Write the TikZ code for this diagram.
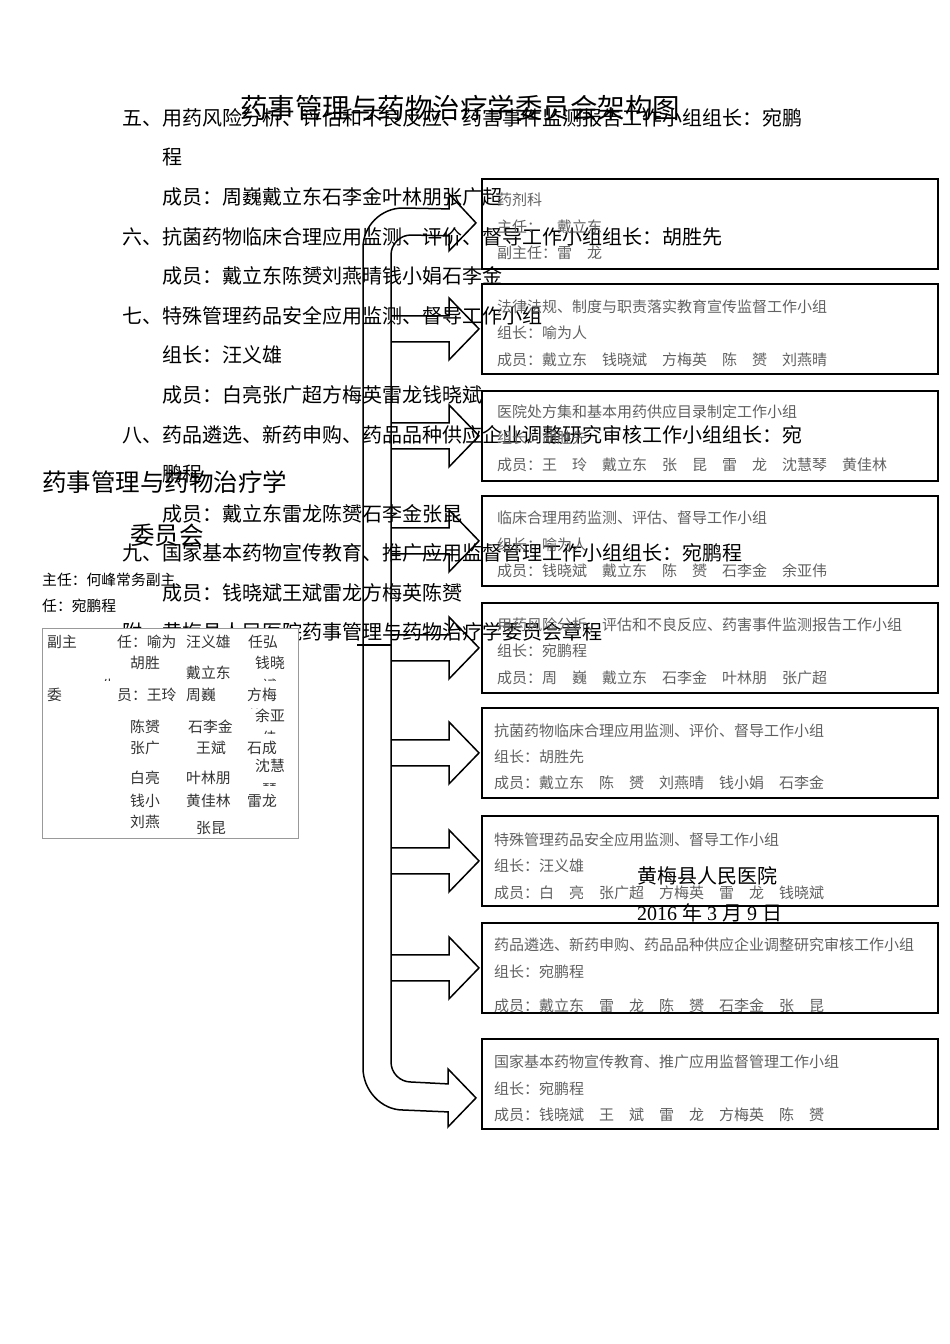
\documentclass[tikz,border=0pt]{standalone}
\usepackage{fontspec}
\setmainfont{Liberation Serif}
\newfontfamily\cjk{Noto Sans CJK SC}
\usetikzlibrary{positioning,calc}

\tikzset{
  bodytxt/.style={anchor=west,inner sep=0pt,font=\cjk\fontsize{20pt}{24pt}\selectfont},
  titletxt/.style={bodytxt,font=\cjk\fontsize{27.5pt}{30pt}\selectfont},
  bigtxt/.style={bodytxt,font=\cjk\fontsize{24.5pt}{28pt}\selectfont},
  smalltxt/.style={bodytxt,font=\cjk\fontsize{14.8pt}{17pt}\selectfont},
  celltxt/.style={smalltxt,text=black!80},
  grpbox/.style={draw,line width=1.8pt,minimum width=456pt,minimum height=90pt,inner sep=0pt,anchor=north west},
  grptxt/.style={anchor=west,inner sep=0pt,text=black!62,font=\cjk\fontsize{15pt}{18pt}\selectfont},
  fatarrow/.style={line width=1.5pt,line join=miter},
}

\begin{document}
\begin{tikzpicture}[x=1pt,y=-1pt]
\path[fill=white,use as bounding box] (0,0) rectangle (950,1344);

% charter text underneath
\node[titletxt] (title) at (240,108) {药事管理与药物治疗学委员会架构图};
\node[bodytxt] (t5a) at (122,118) {五、用药风险分析、评估和不良反应、药害事件监测报告工作小组组长：宛鹏};
\node[bodytxt] (t5b) at (162,157) {程};
\node[bodytxt] (t5c) at (162,197) {成员：周巍戴立东石李金叶林朋张广超};
\node[bodytxt] (t6a) at (122,237) {六、抗菌药物临床合理应用监测、评价、督导工作小组组长：胡胜先};
\node[bodytxt] (t6b) at (162,276) {成员：戴立东陈赟刘燕晴钱小娟石李金};
\node[bodytxt] (t7a) at (122,316) {七、特殊管理药品安全应用监测、督导工作小组};
\node[bodytxt] (t7b) at (162,355) {组长：汪义雄};
\node[bodytxt] (t7c) at (162,395) {成员：白亮张广超方梅英雷龙钱晓斌};
\node[bodytxt] (t8a) at (122,435) {八、药品遴选、新药申购、药品品种供应企业调整研究审核工作小组组长：宛};
\node[bodytxt] (t8b) at (162,474) {鹏程};
\node[bodytxt] (t8c) at (162,514) {成员：戴立东雷龙陈赟石李金张昆};
\node[bodytxt] (t9a) at (122,553) {九、国家基本药物宣传教育、推广应用监督管理工作小组组长：宛鹏程};
\node[bodytxt] (t9b) at (162,593) {成员：钱晓斌王斌雷龙方梅英陈赟};
\node[bodytxt] (tfu) at (122,632) {附、黄梅县人民医院药事管理与药物治疗学委员会章程};

% committee on the left
\node[bigtxt] (cmt) at (42,482) {药事管理与药物治疗学};
\node[bigtxt] (cmt2) at (130,535) {委员会};
\node[smalltxt] (chair) at (42,580) {主任：何峰常务副主};
\node[smalltxt] (chair2) at (42,606) {任：宛鹏程};

% member table
\draw[fill=white,draw=black!40,line width=0.8pt] (42,628) rectangle (298,838);
\node[celltxt] (c1) at (47,642) {副主};
\node[celltxt] (c2) at (117,642) {任：喻为};
\node[celltxt] (c3) at (186,642) {汪义雄};
\node[celltxt] (c4) at (248,642) {任弘};
\node[celltxt] (c5) at (130,663) {胡胜};
\node[celltxt] (c6) at (255,663) {钱晓};
\node[celltxt] (c7) at (186,673) {戴立东};
\node[celltxt] (c8) at (47,695) {委};
\node[celltxt] (c9) at (117,695) {员：王玲};
\node[celltxt] (c10) at (186,695) {周巍};
\node[celltxt] (c11) at (247,695) {方梅};
\node[celltxt] (c12) at (255,716) {余亚};
\node[celltxt] (c13) at (130,727) {陈赟};
\node[celltxt] (c14) at (188,727) {石李金};
\node[celltxt] (c15) at (130,748) {张广};
\node[celltxt] (c16) at (196,748) {王斌};
\node[celltxt] (c17) at (247,748) {石成};
\node[celltxt] (c18) at (255,766) {沈慧};
\node[celltxt] (c19) at (130,778) {白亮};
\node[celltxt] (c20) at (186,778) {叶林朋};
\node[celltxt] (c21) at (130,801) {钱小};
\node[celltxt] (c22) at (186,801) {黄佳林};
\node[celltxt] (c23) at (247,801) {雷龙};
\node[celltxt] (c24) at (130,822) {刘燕};
\node[celltxt] (c25) at (196,828) {张昆};
% cut-off cells
\begin{scope}
  \clip (95,668) rectangle (125,680);
  \node[celltxt] (p1) at (102,686) {生};
\end{scope}
\begin{scope}
  \clip (255,670) rectangle (290,680);
  \node[celltxt] (p2) at (262,686) {斌};
\end{scope}
\begin{scope}
  \clip (244,702) rectangle (280,708);
  \node[celltxt] (p3) at (247,716) {英};
\end{scope}
\begin{scope}
  \clip (255,726) rectangle (290,733);
  \node[celltxt] (p4) at (262,738) {佳};
\end{scope}
\begin{scope}
  \clip (255,778) rectangle (290,785);
  \node[celltxt] (p5) at (262,790) {琴};
\end{scope}

% working groups
\node[grpbox] (g1) at (481,178) {};
\node[grptxt] (g1a) at (497,200) {药剂科};
\node[grptxt] (g1b) at (497,227) {主任：　戴立东};
\node[grptxt] (g1c) at (497,253) {副主任：雷　龙};

\node[grpbox] (g2) at (481,283) {};
\node[grptxt] (g2a) at (497,307) {法律法规、制度与职责落实教育宣传监督工作小组};
\node[grptxt] (g2b) at (497,333) {组长：喻为人};
\node[grptxt] (g2c) at (497,360) {成员：戴立东　钱晓斌　方梅英　陈　赟　刘燕晴};

\node[grpbox] (g3) at (481,390) {};
\node[grptxt] (g3a) at (497,412) {医院处方集和基本用药供应目录制定工作小组};
\node[grptxt] (g3b) at (497,438) {组长：胡胜先};
\node[grptxt] (g3c) at (497,465) {成员：王　玲　戴立东　张　昆　雷　龙　沈慧琴　黄佳林};

\node[grpbox] (g4) at (481,495) {};
\node[grptxt] (g4a) at (497,518) {临床合理用药监测、评估、督导工作小组};
\node[grptxt] (g4b) at (497,545) {组长：喻为人};
\node[grptxt] (g4c) at (497,571) {成员：钱晓斌　戴立东　陈　赟　石李金　余亚伟};

\node[grpbox] (g5) at (481,602) {};
\node[grptxt] (g5a) at (497,625) {用药风险分析、评估和不良反应、药害事件监测报告工作小组};
\node[grptxt] (g5b) at (497,651) {组长：宛鹏程};
\node[grptxt] (g5c) at (497,678) {成员：周　巍　戴立东　石李金　叶林朋　张广超};

\node[grpbox] (g6) at (481,707) {};
\node[grptxt] (g6a) at (494,731) {抗菌药物临床合理应用监测、评价、督导工作小组};
\node[grptxt] (g6b) at (494,757) {组长：胡胜先};
\node[grptxt] (g6c) at (494,783) {成员：戴立东　陈　赟　刘燕晴　钱小娟　石李金};

\node[grpbox] (g7) at (481,815) {};
\node[grptxt] (g7a) at (494,840) {特殊管理药品安全应用监测、督导工作小组};
\node[grptxt] (g7b) at (494,866) {组长：汪义雄};
\node[grptxt] (g7c) at (494,893) {成员：白　亮　张广超　方梅英　雷　龙　钱晓斌};

\node[grpbox] (g8) at (481,922) {};
\node[grptxt] (g8a) at (494,945) {药品遴选、新药申购、药品品种供应企业调整研究审核工作小组};
\node[grptxt] (g8b) at (494,972) {组长：宛鹏程};
\node[grptxt] (g8c) at (494,1006) {成员：戴立东　雷　龙　陈　赟　石李金　张　昆};

\node[grpbox] (g9) at (481,1038) {};
\node[grptxt] (g9a) at (494,1062) {国家基本药物宣传教育、推广应用监督管理工作小组};
\node[grptxt] (g9b) at (494,1089) {组长：宛鹏程};
\node[grptxt] (g9c) at (494,1115) {成员：钱晓斌　王　斌　雷　龙　方梅英　陈　赟};

% big bracket arrow, first and last group
\coordinate (tip1) at ($(g1.west)+(-5,-1)$);
\coordinate (tip9) at ($(g9.west)+(-5,14)$);
\draw[fatarrow] ($(tip1)+(-27,-14)$) -- (403,208) .. controls (381,208) and (363,226) .. (363,248)
  -- (363,1068) .. controls (363,1090) and (381,1110) .. (403,1110)
  -- ($(tip9)+(-28,14)$) -- ($(tip9)+(-28,29)$) -- (tip9) -- ($(tip9)+(-28,-29)$) -- ($(tip9)+(-28,-14)$)
  -- (411,1082) .. controls (400,1082) and (391,1073) .. (391,1062)
  -- (391,255) .. controls (391,244) and (400,235) .. (411,235)
  -- ($(tip1)+(-27,13)$) -- ($(tip1)+(-27,28)$) -- (tip1) -- ($(tip1)+(-27,-29)$) -- cycle;

% arrows to the other groups
\foreach \g in {g2,g3,g4,g5,g6,g7,g8}{
  \coordinate (tip) at ($(\g.west)+(-2,0)$);
  \draw[fatarrow] ($(tip)+(-88,-13)$) -- ($(tip)+(-30,-13)$) -- ($(tip)+(-30,-31)$) -- (tip)
    -- ($(tip)+(-30,31)$) -- ($(tip)+(-30,13)$) -- ($(tip)+(-88,13)$);
}

% stub from the committee
\coordinate (root) at (357,645);
\draw[line width=2.2pt] (root) -- (391,645);

% signature
\node[bodytxt] (hosp) at (637,876) {黄梅县人民医院};
\node[bodytxt] (date) at (637,913) {\rmfamily 2016 {\cjk 年} 3 {\cjk 月} 9 {\cjk 日}};
\end{tikzpicture}
\end{document}
